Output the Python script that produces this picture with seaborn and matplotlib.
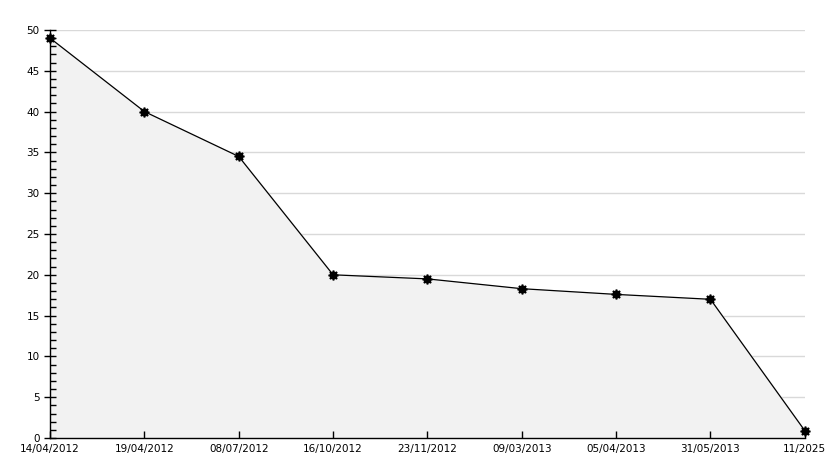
import pandas as pd
import numpy as np
import matplotlib
matplotlib.use("Agg")
import matplotlib.pyplot as plt
from matplotlib.ticker import MultipleLocator
import seaborn as sns

# data
dates = ["14/04/2012", "19/04/2012", "08/07/2012", "16/10/2012", "23/11/2012",
         "09/03/2013", "05/04/2013", "31/05/2013", "11/2025"]
values = [49.0, 40.0, 34.5, 20.0, 19.5, 18.3, 17.6, 17.0, 0.9]
yticks = [0, 5, 10, 15, 20, 25, 30, 35, 40, 45, 50]

df = pd.DataFrame({"date": dates, "value": values})
df["pos"] = np.arange(len(dates))

sns.set_style("white")
plt.rcParams["font.family"] = ["DejaVu Sans"]

fig = plt.figure(figsize=(8.34, 4.68), dpi=100)
ax = fig.add_axes([0.06, 0.064, 0.905, 0.872])

# grid lines behind the filled area
ax.hlines(yticks, 0, len(dates) - 1, color="#d9d9d9", linewidth=1, zorder=0.2)
ax.fill_between(df["pos"], df["value"], 0, color="#f2f2f2", zorder=0.4)
sns.lineplot(data=df, x="pos", y="value", ax=ax, color="black",
             linewidth=0.9, marker=(8, 1, 0), markersize=7, markeredgewidth=1.2,
             markeredgecolor="black", markerfacecolor="black", zorder=3,
             clip_on=False)

ax.set_xlim(0, len(dates) - 1)
ax.set_ylim(0, 50)
ax.set_xticks(df["pos"])
ax.set_xticklabels(dates)
ax.set_yticks(yticks)
ax.yaxis.set_minor_locator(MultipleLocator(1))
ax.grid(False)
ax.set_xlabel("")
ax.set_ylabel("")

for s in ["top", "right"]:
    ax.spines[s].set_visible(False)
for s in ["left", "bottom"]:
    ax.spines[s].set_color("black")
    ax.spines[s].set_linewidth(1)
    ax.spines[s].set_zorder(2.5)

ax.tick_params(axis="x", direction="in", length=5, width=1, color="black",
               labelsize=7.5, labelcolor="black", pad=4, bottom=True)
ax.tick_params(axis="y", which="major", direction="inout", length=8, width=1,
               color="black", labelsize=7.5, labelcolor="black", left=True)
ax.tick_params(axis="y", which="minor", direction="in", length=4, width=1,
               color="black", left=True)

fig.savefig("out.png", dpi=100)
